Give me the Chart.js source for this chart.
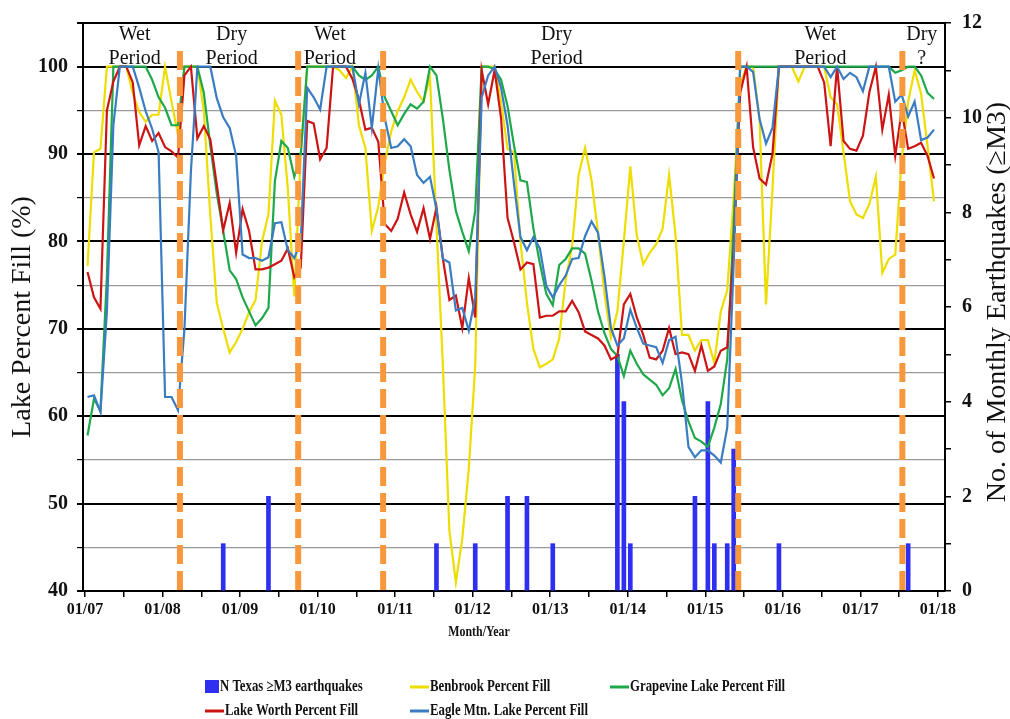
<!DOCTYPE html>
<html><head><meta charset="utf-8">
<script src="https://cdn.jsdelivr.net/npm/chart.js@4.4.0/dist/chart.umd.min.js"></script>
<style>html,body{margin:0;padding:0;background:#fff;}#wrap{width:1010px;height:719px;}</style>
</head><body><div id="wrap"><canvas id="c" width="1010" height="719"></canvas></div>
<script>
// ---------- data ----------
const yearTickLabels = ['01/07','01/08','01/09','01/10','01/11','01/12','01/13','01/14','01/15','01/16','01/17','01/18'];

const benbrook = [77.2,90.2,90.6,100,100,100,100,97,94.8,93.7,
 94.5,94.5,100,96,92.2,100,100,100,95,83,
 73,70,67.3,68.5,70,71.9,73.3,80,83.1,96.1,
 94.5,86,73.7,90,100,100,100,100,100,99.6,
 98.7,100,93.3,90.7,81.2,84,89,92.6,94.9,96.5,
 98.5,97.1,96,98.8,82,65.7,46.9,41,46,54,
 65.7,100,100,100,96,90.6,90.2,80,73,67.7,
 65.6,66,66.5,68.9,75.6,79.5,87.6,90.7,87,81,
 74,69,72,80,88.6,80.7,77.4,78.7,79.7,81.5,
 87.6,80.7,69.3,69.3,67.5,68.7,68.7,66.1,72,74.4,
 85,98,100,100,94,72.8,86,100,100,100,
 98.3,100,100,100,100,96.5,95.7,90.2,84.6,83.1,
 82.7,84.3,87.4,76.4,78,78.5,89.4,96,99.6,96.9,
 90.9,84.6];

const grapevine = [57.8,62,60.6,76,100,100,100,100,100,100,
 98.5,96.5,95.3,93.3,93.3,100,100,100,97,91,
 85.5,81.2,76.7,75.7,73.6,72,70.4,71.2,72.4,86.9,
 91.5,90.7,87.4,90,100,100,100,100,100,100,
 100,100,99,98.5,99,100,96.5,94.9,93.3,94.6,
 95.7,95.2,96,100,99,94,88.2,83.5,81.1,78.9,
 83.5,100,100,99.7,98.5,95.5,91,87,86.8,81.5,
 77.5,74,72.7,77.3,78,79.2,79.2,78.6,75.5,72,
 69.5,67.7,66.9,64.6,67.5,66,64.8,64.2,63.6,62.4,
 63.2,65.4,61.8,59.4,57.5,57.1,56.5,58.7,61.4,66.5,
 82,100,100,100,100,100,100,100,100,100,
 100,100,100,100,100,100,100,100,100,100,
 100,100,100,100,100,99.3,99.6,100,100,99,
 97,96.3];

const lakeWorth = [76.5,73.6,72.3,95,98.3,100,100,98.2,91,93.2,
 91.5,92.4,90.8,90.3,89.6,99,100,91.8,93.2,91.7,
 86.5,81.3,84.4,78.7,83.7,81.2,76.8,76.8,77,77.4,
 77.8,79.2,75.9,77,93.8,93.5,89.4,90.7,100,100,
 100,98.6,96.2,92.8,93,91.4,82,81.2,82.6,85.6,
 83.1,81.1,83.8,80.3,83.9,78,73.3,73.8,70.1,75.8,
 71.3,99.6,95.7,99.6,94.1,82.7,79.9,76.8,77.6,77.4,
 71.3,71.5,71.5,72,72,73.2,71.9,69.7,69.3,68.9,
 68.1,66.5,66.9,72.8,74,71.3,69.3,66.7,66.5,67.5,
 70.1,67.1,67.3,67.1,65.2,68.1,65.2,65.7,67.5,67.9,
 79,97,100,90.8,87.2,86.5,90,100,100,100,
 100,100,100,100,98.2,90.9,100,91.5,90.6,90.4,
 92.1,97.1,100,92.8,96.8,89.8,95,90.6,90.9,91.3,
 89.8,87.2];

const eagleMtn = [62.2,62.4,60.5,72,93.3,100,100,100,97.6,94.9,
 92.9,90.2,62.2,62.2,60.7,70,88,100,100,100,
 96.4,94.2,93,89.8,78.5,78.1,78.1,77.8,78.2,82.1,
 82.2,79,78.1,80,97.6,96.5,95.1,100,100,100,
 100,100,95.7,99.3,93,99.8,94.1,90.7,90.9,91.7,
 90.9,87.6,86.7,87.4,83.7,78,77.6,72.1,72.4,69.8,
 73.6,96.5,99,100,97.6,93.3,86.6,80.5,79,80.5,
 79.2,74.9,73.6,75,76.1,78,78.1,80.6,82.3,81,
 76,70.1,68.1,68.9,72.2,70.1,68.3,68.1,67.9,66.1,
 68.7,69.1,63.8,56.5,55.3,56.1,56.1,55.5,54.7,58.7,
 77.6,100,100,99.4,94,91.2,93,100,100,100,
 100,100,100,100,100,98.8,100,98.6,99.3,98.8,
 97.2,100,100,100,100,96,96.8,94.3,96,91.6,
 91.9,92.8];

const quakeMonths = [21,28,54,60,65,68,72,82,83,84,94,96,97,99,100,107,127];
const quakeCounts = [1,2,1,1,2,2,1,5,4,1,2,4,1,1,3,1,1];

const periodBoundaries = [14.7,33.0,46.15,101.1,126.5];
const periodLine1 = ['Wet','Dry','Wet','Dry','Wet','Dry'];
const periodLine2 = ['Period','Period','Period','Period','Period','?'];
const periodLabelAt = [7.7,22.7,37.9,73.0,113.8,129.5];

// ---------- styling / helpers ----------
const SERIF = '"Liberation Serif", "Times New Roman", serif';
const pos = 0.4; // monthly points drawn a little after the 1st of the month
const toXY = arr => arr.map((v,i)=>({x:i+pos,y:v}));
const COL = {bar:'#2F2FF2', ben:'#EEDD00', grape:'#1EA84A', worth:'#CC1414', eagle:'#3A7CC2', orange:'#F7983C'};

const overlay = {
  id:'overlay',
  afterDatasetsDraw(chart){
    const {ctx, chartArea:a, scales:{x,y}} = chart;
    ctx.save();
    ctx.strokeStyle = COL.orange; ctx.lineWidth = 6; ctx.setLineDash([19,7]);
    periodBoundaries.forEach(m=>{
      const px = x.getPixelForValue(m);
      ctx.beginPath(); ctx.moveTo(px, y.getPixelForValue(101.8)); ctx.lineTo(px, a.bottom); ctx.stroke();
    });
    ctx.setLineDash([]);
    ctx.fillStyle = '#111'; ctx.font = '20px '+SERIF; ctx.textAlign='center'; ctx.textBaseline='alphabetic';
    periodLabelAt.forEach((m,k)=>{
      const px = x.getPixelForValue(m);
      ctx.fillText(periodLine1[k], px, a.top+16.5);
      ctx.fillText(periodLine2[k], px, a.top+40.5);
    });
    ctx.restore();
  },
  afterDraw(chart){
    const {ctx, chartArea:a} = chart;
    ctx.save();
    ctx.fillStyle='#111'; ctx.textAlign='center'; ctx.textBaseline='middle';
    ctx.font = '28px '+SERIF;
    ctx.save(); ctx.translate(23, 317); ctx.rotate(-Math.PI/2); ctx.fillText('Lake Percent Fill (%)',0,0); ctx.restore();
    ctx.save(); ctx.translate(998, (a.top+a.bottom)/2 - 5); ctx.rotate(-Math.PI/2); ctx.fillText('No. of Monthly Earthquakes (\u2265M3)',0,0); ctx.restore();
    ctx.font = 'bold 14px '+SERIF;
    ctx.save(); ctx.translate(479, 632); ctx.scale(0.85,1); ctx.fillText('Month/Year',0,0); ctx.restore();
    // legend
    const items = chart.data.datasets.map(d=>({label:d.label,color:d.borderColor||d.backgroundColor,bar:d.type==='bar'}));
    const slots = [[205,687],[410,687],[610,687],[205,711],[410,711]];
    ctx.font = 'bold 16px '+SERIF; ctx.textAlign='left';
    items.forEach((it,k)=>{
      const [sx,sy] = slots[k];
      if(it.bar){ ctx.fillStyle = it.color; ctx.fillRect(sx, sy-7, 14, 13); }
      else { ctx.strokeStyle = it.color; ctx.lineWidth = 3; ctx.beginPath(); ctx.moveTo(sx, sy); ctx.lineTo(sx+19, sy); ctx.stroke(); }
      ctx.fillStyle='#111';
      ctx.save(); ctx.translate(it.bar? sx+15 : sx+20, sy); ctx.scale(0.8,1); ctx.fillText(it.label,0,0); ctx.restore();
    });
    ctx.restore();
  }
};

const lineDs = (label, arr, color, order) => ({type:'line', label, data:toXY(arr), borderColor:color, backgroundColor:color,
  borderWidth:2.2, pointRadius:0, tension:0, yAxisID:'y', xAxisID:'x', order});

new Chart(document.getElementById('c'), {
  type:'line',
  data:{datasets:[
    {type:'bar', label:'N Texas \u2265M3 earthquakes', data:quakeMonths.map((m,k)=>({x:m+pos,y:quakeCounts[k]})),
     backgroundColor:COL.bar, barThickness:4, yAxisID:'y1', xAxisID:'x', order:10},
    lineDs('Benbrook Percent Fill', benbrook, COL.ben, 4),
    lineDs('Grapevine Lake Percent Fill', grapevine, COL.grape, 3),
    lineDs('Lake Worth Percent Fill', lakeWorth, COL.worth, 2),
    lineDs('Eagle Mtn. Lake Percent Fill', eagleMtn, COL.eagle, 1)
  ]},
  options:{
    responsive:false, animation:false, devicePixelRatio:1,
    layout:{padding:{top:21.5,left:0,right:0,bottom:0}},
    plugins:{legend:{display:false}, tooltip:{enabled:false}},
    scales:{
      x:{type:'linear', position:'bottom', min:-0.3, max:133.1, offset:false,
        afterBuildTicks:s=>{ s.ticks = yearTickLabels.flatMap((l,k)=> k<11 ? [{value:12*k},{value:12*k+6}] : [{value:12*k}]); },
        afterFit:s=>{ s.height = 128; },
        ticks:{autoSkip:false, maxRotation:0, padding:3, color:'#111', font:{family:SERIF, size:16, weight:'bold'},
          callback:v=> (v%12===0) ? yearTickLabels[v/12] : ''},
        grid:{drawOnChartArea:false, drawTicks:true, tickLength:6, color:'#000', lineWidth:1.5, offset:false},
        border:{display:true, color:'#000', width:2}},
      y:{type:'linear', position:'left', min:40, max:105,
        afterBuildTicks:s=>{ const t=[]; for(let v=40; v<=105; v+=5) t.push({value:v}); s.ticks=t; },
        afterFit:s=>{ s.width = 83; },
        ticks:{autoSkip:false, padding:9, color:'#111', font:{family:SERIF, size:20, weight:'bold'},
          callback:v=> (v%10===0 && v<=100) ? String(v) : ''},
        grid:{color:c=> (c.tick && c.tick.value%5===0 && c.tick.value%10!==0 && c.tick.value!==105) ? '#9a9a9a' : '#000',
              lineWidth:c=> (c.tick && c.tick.value%10!==0 && c.tick.value!==105) ? 1.2 : 2,
              tickColor:'#000', tickLength:6},
        border:{display:true, color:'#000', width:2}},
      y1:{type:'linear', position:'right', min:0, max:12,
        afterBuildTicks:s=>{ const t=[]; for(let v=0; v<=12; v++) t.push({value:v}); s.ticks=t; },
        afterFit:s=>{ s.width = 65; },
        ticks:{autoSkip:false, padding:11, color:'#111', font:{family:SERIF, size:20, weight:'bold'},
          callback:v=> (v%2===0) ? String(v) : ''},
        grid:{drawOnChartArea:false, tickLength:6, color:'#000', lineWidth:1.5},
        border:{display:true, color:'#000', width:2}}
    }
  },
  plugins:[overlay]
});
</script></body></html>
